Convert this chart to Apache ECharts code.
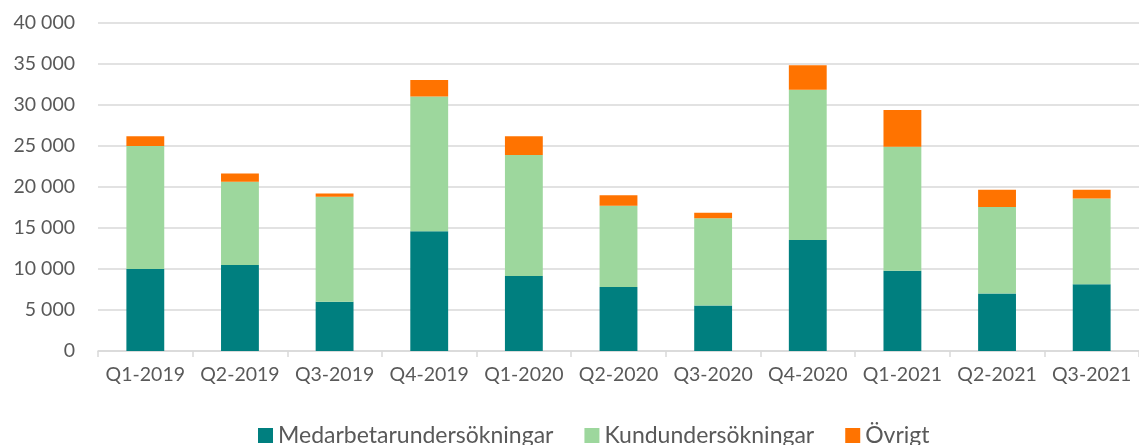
<!DOCTYPE html>
<html>
<head>
<meta charset="utf-8">
<script src="https://cdn.jsdelivr.net/npm/echarts@6/dist/echarts.min.js"></script>
<style>
  html, body { margin: 0; padding: 0; background: #fff; }
  #chart { width: 1139px; height: 445px; }
</style>
</head>
<body>
<div id="chart"></div>
<script>
// kvartal
const categories = ['Q1-2019', 'Q2-2019', 'Q3-2019', 'Q4-2019', 'Q1-2020', 'Q2-2020',
  'Q3-2020', 'Q4-2020', 'Q1-2021', 'Q2-2021', 'Q3-2021']
const medarbetare = [10000, 10500, 6000, 14600, 9150, 7800, 5550, 13550, 9800, 7000, 8150]
const kunder = [15000, 10150, 12800, 16450, 14750, 9900, 10650, 18300, 15100, 10550, 10450]
const ovrigt = [1200, 1000, 400, 2000, 2300, 1300, 650, 3000, 4500, 2100, 1050]
const yTicks = [0, 5000, 10000, 15000, 20000, 25000, 30000, 35000, 40000]

const font = 'Lato'
const textColor = '#595959'
const fmt = v => String(v).replace(/\B(?=(\d{3})+(?!\d))/g, ' ')

const myChart = echarts.init(document.getElementById('chart'))
const bar = (name, data, color) => ({
  name: name,
  type: 'bar',
  stack: 'total',
  barWidth: '40%',
  itemStyle: { color: color },
  data: data,
})

myChart.setOption({
  animation: false,
  textStyle: { fontFamily: font },
  grid: { left: 98, right: -5, top: 23, bottom: 94 },
  xAxis: {
    type: 'category',
    data: categories,
    axisLine: { lineStyle: { color: '#d9d9d9', width: 1.5 } },
    axisTick: { show: true, length: 6, lineStyle: { color: '#d9d9d9', width: 1.5 } },
    axisLabel: { color: textColor, fontSize: 19.5, fontFamily: font, margin: 14, interval: 0 },
  },
  yAxis: {
    type: 'value',
    min: yTicks[0],
    max: yTicks[yTicks.length - 1],
    interval: yTicks[1] - yTicks[0],
    axisLine: { show: false },
    axisTick: { show: false },
    splitLine: { lineStyle: { color: '#d9d9d9', width: 1.5 } },
    axisLabel: { color: textColor, fontSize: 19.5, fontFamily: font, margin: 23, formatter: fmt },
  },
  legend: {
    bottom: -7,
    left: 253,
    itemWidth: 15,
    itemHeight: 15,
    itemGap: 31,
    icon: 'rect',
    textStyle: { color: textColor, fontSize: 23, fontFamily: font },
  },
  series: [
    bar('Medarbetarundersökningar', medarbetare, '#007f7f'),
    bar('Kundundersökningar', kunder, '#9dd79d'),
    bar('Övrigt', ovrigt, '#ff7300'),
  ],
})
</script>
</body>
</html>
